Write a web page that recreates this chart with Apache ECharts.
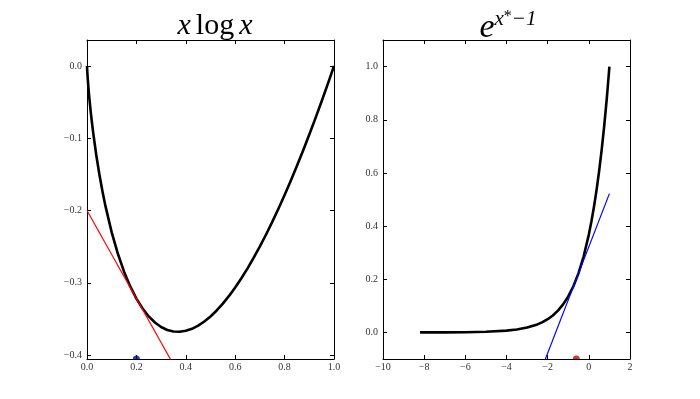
<!DOCTYPE html>
<html>
<head>
<meta charset="utf-8">
<script src="https://cdn.jsdelivr.net/npm/echarts@6/dist/echarts.min.js"></script>
<style>
  html, body { margin: 0; padding: 0; background: #fff; }
  #chart { width: 700px; height: 399px; }
</style>
</head>
<body>
<div id="chart"></div>
<script>
// left panel: x log x
const leftX = [0, 0.0005, 0.001, 0.002, 0.003, 0.005, 0.0075, 0.01, 0.015, 0.02, 0.025, 0.0375, 0.05, 0.0625, 0.075, 0.1, 0.125, 0.15, 0.175, 0.2, 0.225, 0.25, 0.275, 0.3, 0.325, 0.35, 0.375, 0.4, 0.425, 0.45, 0.475, 0.5, 0.525, 0.55, 0.575, 0.6, 0.625, 0.65, 0.675, 0.7, 0.725, 0.75, 0.775, 0.8, 0.825, 0.85, 0.875, 0.9, 0.925, 0.95, 0.975, 1.0];
const leftY = [0, -0.0038, -0.0069, -0.0124, -0.0174, -0.0265, -0.0367, -0.0461, -0.0630, -0.0782, -0.0922, -0.1231, -0.1498, -0.1733, -0.1943, -0.2303, -0.2599, -0.2846, -0.3050, -0.3219, -0.3356, -0.3466, -0.3550, -0.3612, -0.3653, -0.3674, -0.3678, -0.3665, -0.3637, -0.3593, -0.3536, -0.3466, -0.3383, -0.3288, -0.3182, -0.3065, -0.2938, -0.2800, -0.2653, -0.2497, -0.2332, -0.2158, -0.1975, -0.1785, -0.1587, -0.1381, -0.1168, -0.0948, -0.0721, -0.0487, -0.0247, 0];
const leftTangentX = [0, 0.35];
const leftTangentY = [-0.2, -0.4132];
const leftPoint = [0.2, -0.4055];

// right panel: e^(x*-1)
const rightX = [-8.2, -7, -6, -5, -4, -3.5, -3, -2.5, -2.25, -2, -1.75, -1.5, -1.25, -1, -0.75, -0.5, -0.25, 0, 0.125, 0.25, 0.375, 0.5, 0.625, 0.75, 0.875, 1];
const rightY = [0.0001, 0.0003, 0.0009, 0.0025, 0.0067, 0.0111, 0.0183, 0.0302, 0.0388, 0.0498, 0.0639, 0.0821, 0.1054, 0.1353, 0.1738, 0.2231, 0.2865, 0.3679, 0.4169, 0.4724, 0.5353, 0.6065, 0.6873, 0.7788, 0.8825, 1.0];
const rightTangentX = [-2.2, 1];
const rightTangentY = [-0.118, 0.522];
const rightPoint = [-0.609, -0.1];

// axis ranges and ticks
const leftXRange = [0, 1];
const leftXTicks = [0, 0.2, 0.4, 0.6, 0.8, 1.0];
const leftYRange = [-0.4055, 0.036];
const leftYTicks = [-0.4, -0.3, -0.2, -0.1, 0.0];
const rightXRange = [-10, 2];
const rightXTicks = [-10, -8, -6, -4, -2, 0, 2];
const rightYRange = [-0.1, 1.1];
const rightYTicks = [0.0, 0.2, 0.4, 0.6, 0.8, 1.0];

const pairs = (xs, ys) => xs.map((x, i) => [x, ys[i]]);
const minus = (s) => s.replace('-', '\u2212');
const fmt1 = (v) => minus((Math.abs(v) < 1e-9 ? 0 : v).toFixed(1));
const fmt0 = (v) => minus(String(Math.round(v)));

const halfDisc = 'path://M0,10 A10,10 0 0 1 20,10 Z';
const serif = '"Liberation Serif", "DejaVu Serif", serif';

const labelStyle = { fontFamily: serif, fontSize: 10, color: '#333' };

function makeAxes(range, ticks, gridIndex, fmt, isX) {
    const base = {
        type: 'value', gridIndex, min: range[0], max: range[1],
        splitLine: { show: false },
        axisLine: { onZero: false, lineStyle: { color: '#000', width: 1 } },
        axisTick: { inside: true, length: 4, customValues: ticks, lineStyle: { color: '#000', width: 1 } }
    };
    return [
        Object.assign({}, base, {
            position: isX ? 'bottom' : 'left',
            axisLabel: Object.assign({ formatter: fmt, margin: isX ? 3 : 5, customValues: ticks }, labelStyle)
        }),
        Object.assign({}, base, {
            position: isX ? 'top' : 'right',
            axisLabel: { show: false }
        })
    ];
}

const chart = echarts.init(document.getElementById('chart'));

const option = {
    animation: false,
    backgroundColor: '#fff',
    title: [
        {
            left: 210, top: 6, textAlign: 'center',
            text: '{i|x} {r|log} {i|x}',
            textStyle: {
                rich: {
                    i: { fontFamily: serif, fontStyle: 'italic', fontWeight: 'normal', fontSize: 30, color: '#000' },
                    r: { fontFamily: serif, fontWeight: 'normal', fontSize: 30, color: '#000' }
                }
            }
        },
        {
            left: 503, top: 4, textAlign: 'center',
            text: '{e|e}{s|x}{s2|*}{s|\u22121}',
            textStyle: {
                rich: {
                    e: { fontFamily: serif, fontStyle: 'italic', fontWeight: 'normal', fontSize: 34, color: '#000', verticalAlign: 'bottom', lineHeight: 36 },
                    s: { fontFamily: serif, fontStyle: 'italic', fontWeight: 'normal', fontSize: 21, color: '#000', verticalAlign: 'top', lineHeight: 20 },
                    s2: { fontFamily: serif, fontWeight: 'normal', fontSize: 16, color: '#000', verticalAlign: 'top', lineHeight: 18 }
                }
            }
        }
    ],
    grid: [
        { left: 87, right: 366, top: 40, bottom: 40 },
        { left: 383, right: 70, top: 40, bottom: 40 }
    ],
    xAxis: [].concat(
        makeAxes(leftXRange, leftXTicks, 0, fmt1, true),
        makeAxes(rightXRange, rightXTicks, 1, fmt0, true)
    ),
    yAxis: [].concat(
        makeAxes(leftYRange, leftYTicks, 0, fmt1, false),
        makeAxes(rightYRange, rightYTicks, 1, fmt1, false)
    ),
    series: [
        {
            type: 'line', xAxisIndex: 0, yAxisIndex: 0, data: pairs(leftX, leftY),
            showSymbol: false, smooth: false, clip: true,
            lineStyle: { color: '#000', width: 2.6, join: 'round' }, z: 3
        },
        {
            type: 'line', xAxisIndex: 0, yAxisIndex: 0, data: pairs(leftTangentX, leftTangentY),
            showSymbol: false, clip: true, lineStyle: { color: '#ff0000', width: 1.2 }, z: 4
        },
        {
            type: 'scatter', xAxisIndex: 0, yAxisIndex: 0, data: [leftPoint],
            symbol: halfDisc, symbolSize: [7, 3.5], symbolOffset: [0, -1.75],
            itemStyle: { color: '#0000a0' }, z: 5
        },
        {
            type: 'line', xAxisIndex: 2, yAxisIndex: 2, data: pairs(rightX, rightY),
            showSymbol: false, smooth: false, clip: true,
            lineStyle: { color: '#000', width: 2.6, join: 'round' }, z: 3
        },
        {
            type: 'line', xAxisIndex: 2, yAxisIndex: 2, data: pairs(rightTangentX, rightTangentY),
            showSymbol: false, clip: true, lineStyle: { color: '#0000ff', width: 1.2 }, z: 4
        },
        {
            type: 'scatter', xAxisIndex: 2, yAxisIndex: 2, data: [rightPoint],
            symbol: halfDisc, symbolSize: [7, 3.5], symbolOffset: [0, -1.75],
            itemStyle: { color: '#cc0000' }, z: 5
        }
    ]
};

chart.setOption(option);
</script>
</body>
</html>
